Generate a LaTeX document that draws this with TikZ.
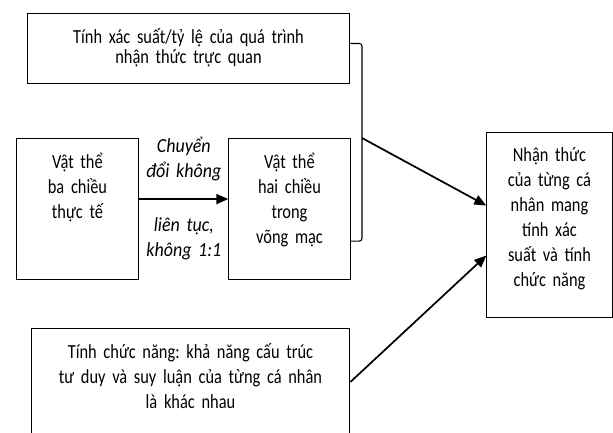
\documentclass[tikz,border=0pt]{standalone}
\usepackage{fontspec}
\setmainfont{Carlito}[FakeStretch=0.82]
\newfontfamily\lblfont{Carlito}[FakeStretch=0.9]
\frenchspacing
\usetikzlibrary{arrows.meta, positioning}

\tikzset{
    box/.style={draw, line width=0.8pt, align=center, inner sep=0pt,
        anchor=north, text height=22.5pt},
    conn/.style={line width=1.3pt, -{Triangle[length=9pt, width=7.5pt]}},
    lbl/.style={font=\lblfont\fontsize{15}{18.75}\selectfont\itshape, align=center,
        inner sep=0pt, text width=80pt}
}

\begin{document}
\begin{tikzpicture}[x=0.75pt, y=-0.75pt, font=\fontsize{15}{18.75}\selectfont]

    % Page frame of the figure
    \useasboundingbox (0,0) rectangle (613,432);
    \clip (0,0) rectangle (613,432);

    % Boxes (placed by their top centre)
    \node[box, text width=242pt, text depth=30pt,
        font=\fontsize{15}{15}\selectfont] (xacsuat) at (188.5,13)
        {Tính xác suất/tỷ lệ của quá trình\\nhận thức trực quan};
    \node[box, text width=92pt, text depth=83.25pt] (vat3d) at (77.5,138)
        {Vật thể\\ba chiều\\thực tế};
    \node[box, text width=91pt, text depth=83.25pt] (vat2d) at (289.5,138)
        {Vật thể\\hai chiều\\trong\\võng mạc};
    \node[box, text width=94pt, text height=21.75pt, text depth=117pt] (nhanthuc) at (549.5,132)
        {Nhận thức\\của từng cá\\nhân mang\\tính xác\\suất và tính\\chức năng};
    \node[box, text width=239pt, text depth=95pt] (chucnang) at (190.5,328)
        {Tính chức năng: khả năng cấu trúc\\tư duy và suy luận của từng cá nhân\\là khác nhau};

    % Conversion arrow with its labels
    \draw[conn] ([yshift=7.5pt]vat3d.east) -- ([yshift=7.5pt]vat2d.west)
        node[lbl, midway, above=15.75pt, text height=12pt, text depth=18.75pt] (chuyen)
            {Chuyển\\đổi không}
        node[lbl, midway, below=13pt, text height=11pt, text depth=18.75pt] (lientuc)
            {liên tục,\\không 1:1};

    % Bracket joining the top box and the retina box
    \coordinate (join) at (362,138);
    \draw[line width=0.8pt, rounded corners=2pt]
        ([yshift=3.8pt]xacsuat.east) -| (join) |- ([yshift=-24pt]vat2d.east);

    % Arrows into the perception box
    \draw[conn] (join) -- ([yshift=14.6pt]nhanthuc.west);
    \draw[conn] ([yshift=-40.5pt]chucnang.north east) -- ([yshift=-22.9pt]nhanthuc.west);

\end{tikzpicture}
\end{document}
